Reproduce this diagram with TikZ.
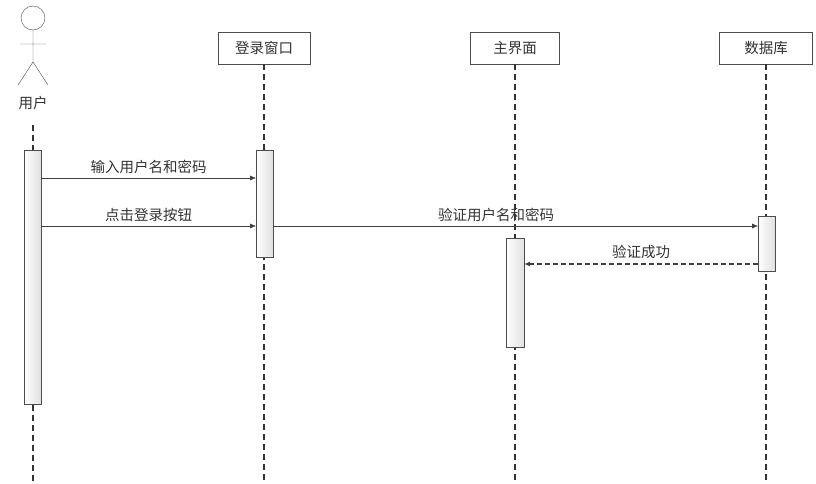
\documentclass[tikz,border=0pt]{standalone}
\usepackage{fontspec}
\setmainfont{Noto Sans CJK SC}
\usetikzlibrary{arrows.meta}
\tikzset{
  obj/.style={draw=black!70, fill=white, minimum width=92pt, minimum height=32pt, inner sep=0pt},
  life/.style={dash pattern=on 6pt off 4pt, line width=1.2pt, black!80},
  act/.style={draw=black!70, left color=white, right color=black!12},
  msg/.style={-{Latex[length=6pt,width=5pt]}, black!75},
  ret/.style={-{Latex[length=6pt,width=5pt]}, black!75, dash pattern=on 5pt off 3pt, line width=1.2pt},
  lbl/.style={font=\fontsize{14.5}{16}\selectfont, text=black!80}
}
\begin{document}
\begin{tikzpicture}[x=1pt,y=-1pt]
\useasboundingbox (0,0) rectangle (816,483);
% actor
\draw [black!70] (33,18) circle (12);
\draw [black!70] (33,30) -- (33,62) (20,44) -- (46,44) (33,62) -- (18,85) (33,62) -- (48,85);
\node [lbl] (user) at (33,103) {用户};
% objects
\node [obj, lbl] (login) at (264,48) {登录窗口};
\node [obj, lbl, minimum width=89pt] (main) at (515,48) {主界面};
\node [obj, lbl, minimum width=93pt] (db) at (766,48) {数据库};
% lifelines
\coordinate (u0) at (33,125); \coordinate (u1) at (33,483);
\coordinate (l1) at (264,483); \coordinate (m1) at (515,483); \coordinate (d1) at (766,483);
\draw [life] (u0) -- (u1);
\draw [life] (login) -- (l1);
\draw [life] (main) -- (m1);
\draw [life] (db) -- (d1);
% activations
\draw [act] (24,150) rectangle (41,404);
\draw [act] (256,150) rectangle (273,257);
\draw [act] (506,238) rectangle (524,347);
\draw [act] (758,216) rectangle (775,271);
% messages
\coordinate (a1) at (41,178); \coordinate (b1) at (256,178);
\coordinate (a2) at (41,226); \coordinate (b2) at (256,226);
\coordinate (a3) at (273,226); \coordinate (b3) at (758,226);
\coordinate (a4) at (758,264); \coordinate (b4) at (524,264);
\draw [msg] (a1) -- (b1) node [lbl, midway, above=1pt] {输入用户名和密码};
\draw [msg] (a2) -- (b2) node [lbl, midway, above=1pt] {点击登录按钮};
\draw [msg] (a3) -- (b3) node [lbl, pos=0.46, above=1pt] {验证用户名和密码};
\draw [ret] (a4) -- (b4) node [lbl, pos=0.5, above=1pt] {验证成功};
\end{tikzpicture}
\end{document}
